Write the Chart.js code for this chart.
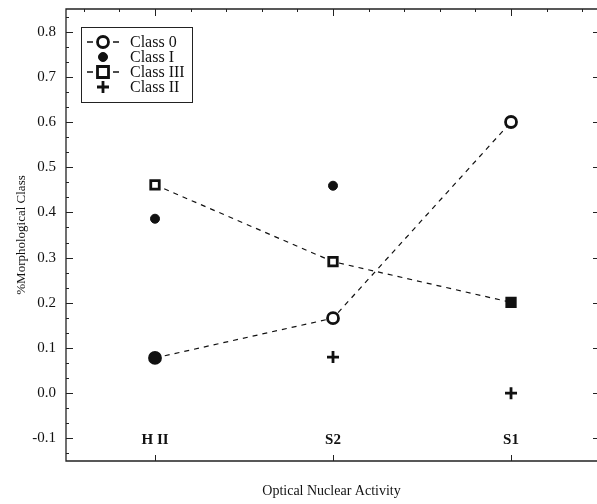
<!DOCTYPE html>
<html>
<head>
<meta charset="utf-8">
<script src="https://cdn.jsdelivr.net/npm/chart.js@4"></script>
<style>
  html, body { margin: 0; padding: 0; background: #fff; }
  #wrap { width: 597px; height: 504px; }
</style>
</head>
<body>
<div id="wrap"><canvas id="morphChart" width="597" height="504"></canvas></div>
<script>
// categories on the x axis (drawn at positions 0, 1, 2)
const categories = ['H II', 'S2', 'S1'];

// values per class, one per category (null = no point)
const class0 = [0.078, 0.166, 0.600];
const classI = [0.386, 0.459, null];
const classIII = [0.461, 0.291, 0.201];
const classII = [null, 0.080, 0.000];

// y axis tick labels
const yTicks = [-0.1, 0.0, 0.1, 0.2, 0.3, 0.4, 0.5, 0.6, 0.7, 0.8];

const serif = '"Liberation Serif", "DejaVu Serif", serif';

function toPoints(values) {
  const pts = [];
  values.forEach((v, i) => { if (v !== null) pts.push({ x: i, y: v }); });
  return pts;
}

// frame, inward ticks, category labels inside the plot, legend box
const framePlugin = {
  id: 'frame',
  afterDraw(chart) {
    const ctx = chart.ctx;
    const area = chart.chartArea;
    const xs = chart.scales.x;
    const ys = chart.scales.y;
    ctx.save();
    ctx.strokeStyle = '#222';
    ctx.lineWidth = 1.3;
    // the plot runs off the right edge of the page, so no right border
    ctx.beginPath();
    ctx.moveTo(area.right, area.top);
    ctx.lineTo(area.left, area.top);
    ctx.lineTo(area.left, area.bottom);
    ctx.lineTo(area.right, area.bottom);
    ctx.stroke();

    // y ticks left and right
    ctx.lineWidth = 1;
    yTicks.forEach((v) => {
      const py = Math.round(ys.getPixelForValue(v)) + 0.5;
      ctx.beginPath();
      ctx.moveTo(area.left, py); ctx.lineTo(area.left + 7, py);
      ctx.moveTo(area.right, py); ctx.lineTo(area.right - 4, py);
      ctx.stroke();
      for (let k = 1; k < 3; k++) {
        const mv = v + k * 0.1 / 3;
        if (mv > ys.max) continue;
        const my = Math.round(ys.getPixelForValue(mv)) + 0.5;
        ctx.beginPath();
        ctx.moveTo(area.left, my); ctx.lineTo(area.left + 3, my);
        ctx.stroke();
      }
    });
    const lowMinor = Math.round(ys.getPixelForValue(-0.1 - 0.1 / 3)) + 0.5;
    ctx.beginPath();
    ctx.moveTo(area.left, lowMinor); ctx.lineTo(area.left + 3, lowMinor);
    ctx.stroke();

    // x ticks top and bottom
    categories.forEach((c, i) => {
      const px = Math.round(xs.getPixelForValue(i)) + 0.5;
      ctx.beginPath();
      ctx.moveTo(px, area.top); ctx.lineTo(px, area.top + 7);
      ctx.moveTo(px, area.bottom); ctx.lineTo(px, area.bottom - 6);
      ctx.stroke();
    });
    for (let v = -0.4; v < xs.max; v += 0.2) {
      const px = Math.round(xs.getPixelForValue(v)) + 0.5;
      ctx.beginPath();
      ctx.moveTo(px, area.top); ctx.lineTo(px, area.top + 3);
      ctx.stroke();
    }

    // category labels drawn inside the plot
    ctx.fillStyle = '#111';
    ctx.font = 'bold 15px ' + serif;
    ctx.textAlign = 'center';
    ctx.textBaseline = 'middle';
    categories.forEach((c, i) => {
      ctx.fillText(c, xs.getPixelForValue(i), ys.getPixelForValue(-0.1) + 2);
    });

    // legend box
    const lx = 81, ly = 27, lw = 111, lh = 75;
    ctx.lineWidth = 1;
    ctx.strokeRect(lx + 0.5, ly + 0.5, lw, lh);
    ctx.font = '16px ' + serif;
    ctx.textAlign = 'left';
    chart.data.datasets.forEach((ds, i) => {
      const y = ly + 15 + i * 15;
      const mx = 103;
      ctx.strokeStyle = '#111';
      if (ds.showLine) {
        ctx.lineWidth = 1.3;
        ctx.beginPath();
        ctx.moveTo(87, y); ctx.lineTo(93, y);
        ctx.moveTo(113, y); ctx.lineTo(119, y);
        ctx.stroke();
      }
      ctx.lineWidth = ds.pointBorderWidth;
      ctx.beginPath();
      const r = ds.pointRadius;
      if (ds.pointStyle === 'circle') {
        ctx.arc(mx, y, r, 0, Math.PI * 2);
        ctx.fillStyle = ds.label === 'Class I' ? '#111' : '#fff';
        ctx.fill();
        ctx.stroke();
      } else if (ds.pointStyle === 'rect') {
        ctx.fillStyle = '#fff';
        ctx.rect(mx - r + 0.5, y - r + 0.5, 2 * r - 1, 2 * r - 1);
        ctx.fill();
        ctx.stroke();
      } else {
        ctx.moveTo(mx - r, y); ctx.lineTo(mx + r, y);
        ctx.moveTo(mx, y - r); ctx.lineTo(mx, y + r);
        ctx.stroke();
      }
      ctx.fillStyle = '#111';
      ctx.fillText(ds.label, 130, y + 1);
    });
    ctx.restore();
  }
};

new Chart(document.getElementById('morphChart'), {
  type: 'scatter',
  data: {
    datasets: [
      {
        label: 'Class 0',
        data: toPoints(class0),
        showLine: true,
        borderColor: '#111',
        borderWidth: 1.2,
        borderDash: [5, 5],
        pointStyle: 'circle',
        pointRadius: 5.5,
        pointBorderWidth: 2.8,
        pointBorderColor: '#111',
        pointBackgroundColor: ['#111', '#fff', '#fff']
      },
      {
        label: 'Class I',
        data: toPoints(classI),
        showLine: false,
        pointStyle: 'circle',
        pointRadius: 4.5,
        pointBorderWidth: 1,
        pointBorderColor: '#111',
        pointBackgroundColor: '#111'
      },
      {
        label: 'Class III',
        data: toPoints(classIII),
        showLine: true,
        borderColor: '#111',
        borderWidth: 1.2,
        borderDash: [5, 5],
        pointStyle: 'rect',
        pointRadius: 6,
        pointBorderWidth: 2.8,
        pointBorderColor: '#111',
        pointBackgroundColor: ['#fff', '#fff', '#111']
      },
      {
        label: 'Class II',
        data: toPoints(classII),
        showLine: false,
        pointStyle: 'cross',
        pointRadius: 6,
        pointBorderWidth: 2.8,
        pointBorderColor: '#111'
      }
    ]
  },
  options: {
    responsive: false,
    animation: false,
    layout: { autoPadding: false, padding: { left: 0, right: 0, top: 0, bottom: 0 } },
    plugins: {
      legend: { display: false },
      tooltip: { enabled: false }
    },
    scales: {
      x: {
        type: 'linear',
        min: -0.5,
        max: 2.483,
        grid: { display: false, drawTicks: false },
        border: { display: false },
        ticks: { display: false },
        title: {
          display: true,
          text: 'Optical Nuclear Activity',
          font: { family: serif, size: 14 },
          color: '#111',
          padding: { top: 22, bottom: 4 }
        },
        afterFit(scale) { scale.height = 43; }
      },
      y: {
        min: -0.15,
        max: 0.85,
        grid: { display: false, drawTicks: false },
        border: { display: false },
        afterBuildTicks(scale) { scale.ticks = yTicks.map(v => ({ value: v })); },
        ticks: {
          color: '#111',
          font: { family: serif, size: 15 },
          padding: 10,
          callback: v => v.toFixed(1)
        },
        title: {
          display: true,
          text: '%Morphological Class',
          font: { family: serif, size: 13 },
          color: '#111',
          padding: { top: 14, bottom: 0 }
        },
        afterFit(scale) {
          scale.width = 66;
          scale.paddingTop = 9;
        }
      }
    }
  },
  plugins: [framePlugin]
});
</script>
</body>
</html>
